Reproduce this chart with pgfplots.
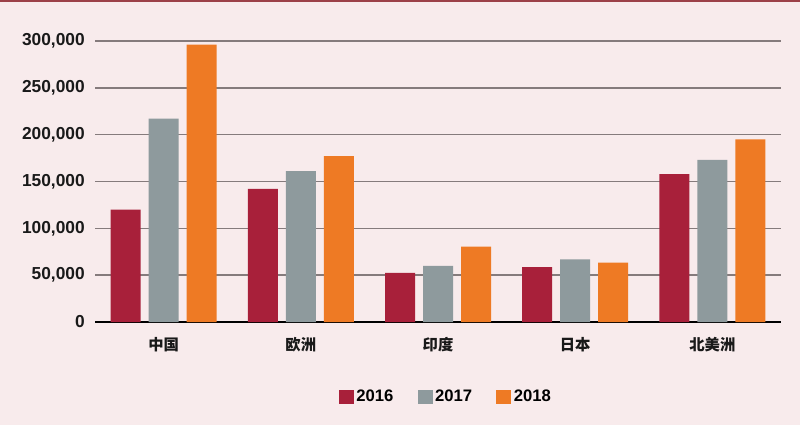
\documentclass[border=0pt]{standalone}
\usepackage{fontspec}
\setmainfont{Liberation Sans}
\newfontfamily\cjk{Noto Sans CJK SC}
\usepackage{pgfplots}
\pgfplotsset{compat=1.18}

\definecolor{bgpink}{HTML}{F8EBEC}
\definecolor{topline}{HTML}{9C4048}
\definecolor{c2016}{HTML}{A8203A}
\definecolor{c2017}{HTML}{8E9A9D}
\definecolor{c2018}{HTML}{EE7A24}
\definecolor{gridc}{HTML}{857B7C}

\begin{document}
\begin{tikzpicture}
\fill[bgpink] (0,0) rectangle (600pt,318.75pt);
\draw[topline, line width=1.5pt] (0,318pt) -- (600pt,318pt);
\begin{axis}[
    at={(71.25pt,77.25pt)}, anchor=south west,
    scale only axis,
    width=514.5pt, height=210.75pt,
    ybar, bar width=22.5pt,
    xmin=-0.5, xmax=4.5,
    ymin=0, ymax=300000,
    ytick={0,50000,100000,150000,200000,250000,300000},
    yticklabels={0,{50,000},{100,000},{150,000},{200,000},{250,000},{300,000}},
    xtick={0,1,2,3,4},
    xticklabels={中国,欧洲,印度,日本,北美洲},
    scaled y ticks=false,
    major tick length=0pt,
    axis x line*=bottom,
    axis y line*=left,
    y axis line style={draw=none},
    x axis line style={black, line width=1.5pt, -},
    ymajorgrids,
    grid style={gridc, line width=1.1pt},
    yticklabel style={font=\bfseries\fontsize{13}{13}\selectfont, text=black!90, inner sep=0pt, xshift=-7.5pt},
    xticklabel style={font=\cjk\bfseries\fontsize{11.5}{11.5}\selectfont, text=black!90, inner sep=0pt, yshift=-11pt},
    legend columns=3,
    legend style={at={(0.512,-0.267)}, anchor=center, draw=none, fill=none,
        font=\bfseries\fontsize{12.5}{12.5}\selectfont,
        /tikz/every even column/.append style={column sep=16pt}},
    legend image code/.code={\fill[#1] (0pt,-5.6pt) rectangle (11.25pt,5.6pt);},
]
\addplot[fill=c2016, draw=none, bar shift=-28.5pt] coordinates {
    (0,120000) (1,142000) (2,52500) (3,58700) (4,158000)
};
\addplot[fill=c2017, draw=none, bar shift=0pt] coordinates {
    (0,217000) (1,161000) (2,59800) (3,66900) (4,173000)
};
\addplot[fill=c2018, draw=none, bar shift=28.5pt] coordinates {
    (0,296000) (1,177000) (2,80400) (3,63300) (4,195000)
};
\legend{2016,2017,2018}
\end{axis}
\pgfresetboundingbox
\useasboundingbox (0,0) rectangle (600pt,318.75pt);
\end{tikzpicture}
\end{document}
